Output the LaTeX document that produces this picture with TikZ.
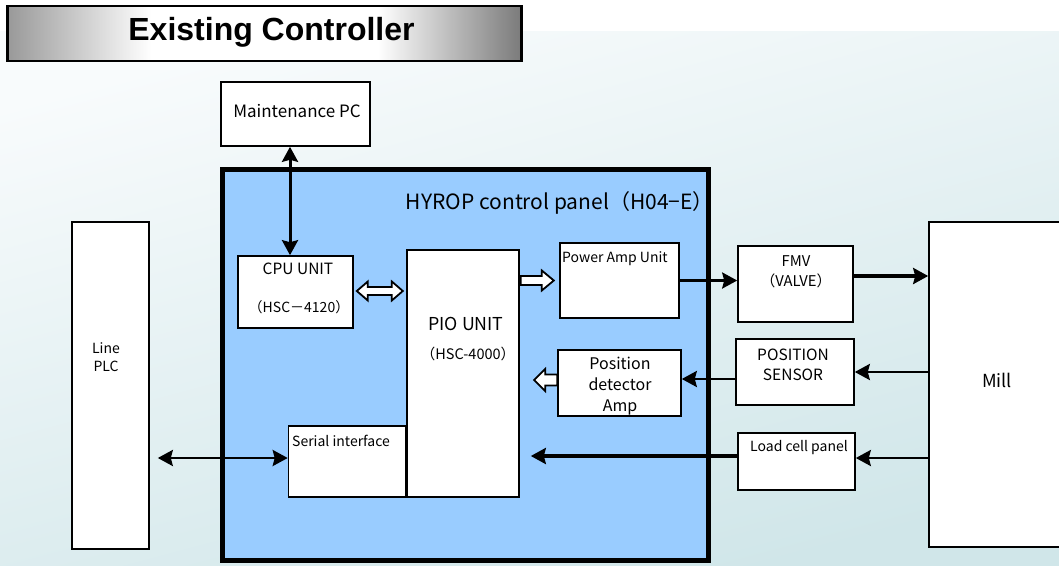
\documentclass[tikz,border=0pt]{standalone}
\usepackage{fontspec}
\setmainfont{Noto Sans CJK JP}
\newfontfamily\titlefont{Liberation Sans}
\usetikzlibrary{arrows.meta,calc}
\definecolor{panelblue}{HTML}{99CCFF}
\definecolor{bgtop}{HTML}{F8FBFC}
\definecolor{bgbot}{HTML}{D0E6E9}
\pgfdeclarehorizontalshading{titleshade}{100bp}{color(0bp)=(black!40); color(25bp)=(black!40); color(39bp)=(white); color(61bp)=(white); color(75bp)=(black!52); color(100bp)=(black!52)}
\newcommand\fs[1]{\fontsize{#1}{#1}\selectfont}
\begin{document}
\begin{tikzpicture}[x=1pt,y=-1pt,
  box/.style={draw, line width=1.6pt, fill=white, inner sep=0pt},
  txt/.style={inner sep=0pt, font=\fs{14}},
  arr/.style={line width=2.6pt, -{Stealth[length=15pt,width=16pt,inset=2pt]}},
  darr/.style={line width=2.6pt, {Stealth[length=15pt,width=16pt,inset=2pt]}-{Stealth[length=15pt,width=16pt,inset=2pt]}},
  hollow/.style={draw, line width=1.8pt, fill=white, line join=miter}
]
\useasboundingbox (0,0) rectangle (1059,565);
\fill[white] (0,0) rectangle (1059,565);
\shade[top color=bgtop, bottom color=bgbot, shading angle=15] (0,31) rectangle (1059,565);

% title
\node[draw, line width=2.5pt, inner sep=0pt, minimum width=514pt, minimum height=55pt,
      shading=titleshade] (titlebox) at (264.5,33.5) {};
\node[inner sep=0pt, font=\titlefont\bfseries\fs{32}] (title) at (271.5,32) {Existing Controller};

% outside boxes
\node[box, minimum width=149pt, minimum height=64pt] (mpc) at (295.5,114) {};
\node[txt, font=\fs{17}] (mpct) at (297,111) {Maintenance PC};

\node[box, minimum width=77pt, minimum height=327pt] (plc) at (110.5,385.5) {};
\node[txt, align=center, font=\fs{14}, text width=40pt] (plct) at (106,357.5) {Line\\[4pt]PLC};

\node[box, minimum width=134pt, minimum height=325pt] (mill) at (996,384.5) {};
\node[txt, font=\fs{18}] (millt) at (997,380) {Mill};

% panel
\node[draw, line width=5pt, fill=panelblue, inner sep=0pt, minimum width=486pt, minimum height=391pt] (panel) at (465.5,365) {};
\node[txt, anchor=east, font=\fs{21}] (panelt) at (714,203) {HYROP control panel（H04−E）};

% inner boxes
\node[box, minimum width=115pt, minimum height=72pt] (cpu) at (295.5,292) {};
\node[txt, font=\fs{15.5}] (cput1) at (298,269) {CPU UNIT};
\node[txt] (cput2) at (299,307) {（HSC－4120）};

\node[box, minimum width=117pt, minimum height=71pt] (ser) at (347,461.5) {};
\node[txt, anchor=west] (sert) at (292,441) {Serial interface};

\node[box, minimum width=112pt, minimum height=247pt] (pio) at (463,373.5) {};
\node[txt, font=\fs{17.8}] (piot1) at (466,324) {PIO UNIT};
\node[txt, font=\fs{14.5}] (piot2) at (468,354) {（HSC-4000）};

\node[box, minimum width=119pt, minimum height=75pt] (pa) at (619.5,280.5) {};
\node[txt, anchor=west] (pat) at (562,259) {Power Amp Unit};

\node[box, minimum width=123pt, minimum height=66pt] (pda) at (619.5,383) {};
\node[txt, align=center, font=\fs{16}] (pdat) at (620,386) {Position\\[5pt]detector\\[5pt]Amp};

% field boxes
\node[box, minimum width=115pt, minimum height=76pt] (fmv) at (795.5,284) {};
\node[txt, align=center, font=\fs{14.8}] (fmvt) at (796,271.5) {FMV\\[5pt]（VALVE）};

\node[box, minimum width=118pt, minimum height=66pt] (ps) at (795,372) {};
\node[txt, align=center, font=\fs{15.5}] (pst) at (793,365) {POSITION\\[4pt]SENSOR};

\node[box, minimum width=117pt, minimum height=57pt] (lc) at (796.5,461.5) {};
\node[txt, anchor=west] (lct) at (750,448) {Load cell panel};

% connector end points
\coordinate (mpcs) at ($(mpc.south)+(-5.5,0)$);
\coordinate (cpun) at ($(cpu.north)+(-5.5,0)$);
\coordinate (serw) at ($(ser.west)+(0,-3.5)$);
\coordinate (plce) at ($(plc.east |- serw)+(8,0)$);
\coordinate (fmve) at ($(fmv.east)+(0,-8)$);
\coordinate (psw) at ($(ps.west)+(0,7)$);
\coordinate (lce) at ($(lc.east)+(0,-3.5)$);
\coordinate (lcw) at ($(lc.west)+(0,-5.5)$);
\coordinate (piolc) at ($(pio.east |- lcw)+(11,0)$);

% connectors
\draw[darr, line width=3pt] (mpcs) -- (cpun);
\draw[darr] (plce) -- (serw);
\draw[arr] (pa.east) -- (fmv.west |- pa.east);
\draw[arr, line width=4pt] (fmve) -- (fmve -| mill.west);
\draw[arr] (mill.west |- ps.east) -- (ps.east);
\draw[arr] (psw) -- (psw -| pda.east);
\draw[arr] (mill.west |- lce) -- (lce);
\draw[arr, line width=4pt] (lcw) -- (piolc);

% hollow block arrows
\draw[hollow] ($(cpu.east)+(3,-1)$) -- ++(11,-9.5) -- ++(0,5.5) -- ++(24,0) -- ++(0,-5.5)
  -- ++(11,9.5) -- ++(-11,9.5) -- ++(0,-5.5) -- ++(-24,0) -- ++(0,5.5) -- cycle;
\draw[hollow] ($(pio.east |- pa.west)+(1,-4.5)$) -- ++(21,0) -- ++(0,-5.5) -- ++(12,10)
  -- ++(-12,10) -- ++(0,-5.5) -- ++(-21,0) -- cycle;
\draw[hollow] ($(pda.west)+(-23,-3)$) -- ++(11,-11) -- ++(0,5.5) -- ++(12,0) -- ++(0,11)
  -- ++(-12,0) -- ++(0,5.5) -- cycle;
\end{tikzpicture}
\end{document}
